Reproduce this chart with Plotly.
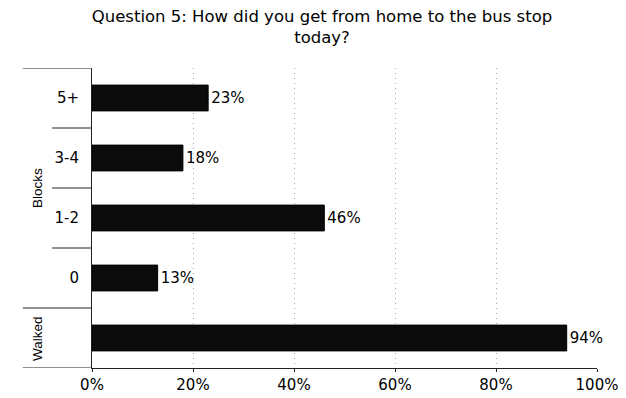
import plotly.graph_objects as go

categories = ["Walked", "0", "1-2", "3-4", "5+"]
tick_labels = ["", "0", "1-2", "3-4", "5+"]
groups = ["Walked", "Blocks", "Blocks", "Blocks", "Blocks"]
values = [94, 13, 46, 18, 23]
x_ticks = [0, 20, 40, 60, 80, 100]

FONT = "DejaVu Sans"
GFONT = "Liberation Sans"
pos = list(range(len(categories)))

fig = go.Figure()
fig.add_trace(go.Bar(
    x=values, y=pos, orientation="h",
    marker=dict(color="#0b0b0b", line=dict(color="#000000", width=1)),
    width=0.43,
    text=[f"{v}%" for v in values], textposition="outside",
    textfont=dict(family=FONT, size=15, color="#000"),
    cliponaxis=False,
    hoverinfo="skip",
))

shapes = []
bounds = [p + 0.5 for p in pos] + [-0.5]
group_edges = set()
for i in range(len(groups)):
    if i == 0 or groups[i] != groups[i - 1]:
        group_edges.add(i - 0.5)
group_edges.add(len(groups) - 0.5)
for b in bounds:
    long = b in group_edges
    shapes.append(dict(type="line", xref="paper", yref="y",
                       x0=-0.137 if long else -0.079, x1=0, y0=b, y1=b,
                       line=dict(color="#222", width=1)))

annotations = []
seen = {}
for g, p in zip(groups, pos):
    seen.setdefault(g, []).append(p)
for g, ps in seen.items():
    annotations.append(dict(text=g, xref="paper", yref="y", x=-0.109, xanchor="center",
                            y=sum(ps) / len(ps), yanchor="middle",
                            showarrow=False, textangle=-90,
                            font=dict(family=GFONT, size=13.5, color="#000")))

fig.update_layout(
    width=626, height=398,
    margin=dict(l=92, r=29, t=68, b=30, autoexpand=False),
    paper_bgcolor="white", plot_bgcolor="white",
    title=dict(text="Question 5: How did you get from home to the bus stop<br>today?",
               x=322 / 626, xanchor="center", y=1 - 22 / 398, yanchor="top",
               font=dict(family=FONT, size=16.5, color="#000")),
    font=dict(family=FONT, size=15, color="#000"),
    showlegend=False,
    shapes=shapes,
    annotations=annotations,
    bargap=0.57,
)
fig.update_xaxes(range=[0, 100], tickvals=x_ticks, ticktext=[f"{t}%" for t in x_ticks],
                 showgrid=True, gridcolor="#aaa", griddash="1px,4px", gridwidth=1,
                 showline=True, linecolor="#222", linewidth=1,
                 ticks="outside", ticklen=3, tickcolor="#222",
                 zeroline=False, fixedrange=True, automargin=False)
fig.update_yaxes(range=[-0.5, 4.5], tickvals=pos, ticktext=tick_labels,
                 showgrid=False, showline=True, linecolor="#222", linewidth=1,
                 ticks="", ticklabelstandoff=9, zeroline=False, fixedrange=True,
                 automargin=False)

fig.write_html("out.html", config={"displayModeBar": False},
               post_script="document.body.style.margin='0';")
